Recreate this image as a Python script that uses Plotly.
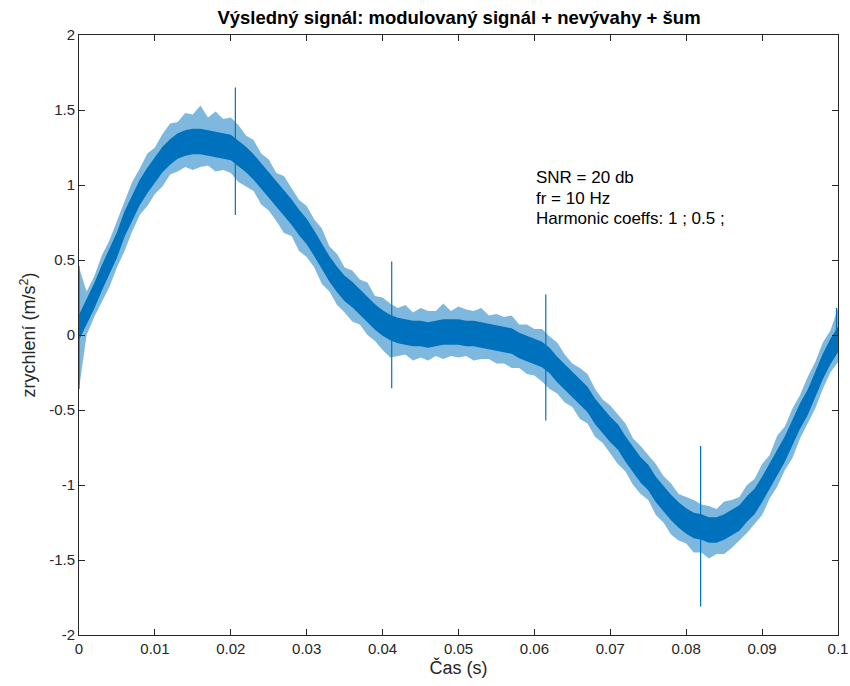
import plotly.graph_objects as go

# time samples (s), one every 1 ms
t = [i / 1000 for i in range(101)]

# centre of the noisy band (m/s^2)
center = [
    0.05, 0.15, 0.26, 0.38, 0.49, 0.60, 0.74, 0.85, 0.95, 1.03,
    1.10, 1.17, 1.22, 1.26, 1.28, 1.29, 1.29, 1.28, 1.27, 1.26,
    1.25, 1.21, 1.17, 1.12, 1.06, 1.00, 0.94, 0.88, 0.82, 0.75,
    0.69, 0.61, 0.52, 0.44, 0.37, 0.31, 0.27, 0.22, 0.17, 0.12,
    0.08, 0.05, 0.03, 0.02, 0.01, 0.01, 0.00, 0.01, 0.02, 0.02,
    0.02, 0.01, 0.01, 0.00, -0.01, -0.02, -0.03, -0.04, -0.07, -0.09,
    -0.11, -0.13, -0.17, -0.23, -0.28, -0.33, -0.38, -0.43, -0.51, -0.57,
    -0.63, -0.68, -0.76, -0.83, -0.90, -0.95, -1.03, -1.09, -1.15, -1.20,
    -1.24, -1.27, -1.28, -1.30, -1.30, -1.28, -1.25, -1.22, -1.16, -1.11,
    -1.03, -0.94, -0.85, -0.76, -0.65, -0.54, -0.45, -0.33, -0.21, -0.11,
    -0.03,
]

# how far the noise reaches above / below the centre at each sample
noise_up = [
    0.40, 0.14, 0.13, 0.15, 0.14, 0.16, 0.15, 0.17, 0.16, 0.18,
    0.15, 0.17, 0.19, 0.16, 0.20, 0.18, 0.24, 0.17, 0.22, 0.18,
    0.20, 0.19, 0.16, 0.18, 0.15, 0.17, 0.14, 0.18, 0.16, 0.15,
    0.17, 0.16, 0.19, 0.15, 0.17, 0.14, 0.16, 0.15, 0.18, 0.14,
    0.17, 0.16, 0.15, 0.18, 0.14, 0.17, 0.16, 0.15, 0.19, 0.14,
    0.17, 0.16, 0.15, 0.18, 0.14, 0.16, 0.15, 0.17, 0.14, 0.16,
    0.15, 0.17, 0.16, 0.18, 0.15, 0.14, 0.16, 0.17, 0.15, 0.14,
    0.16, 0.15, 0.17, 0.14, 0.16, 0.15, 0.17, 0.15, 0.16, 0.14,
    0.16, 0.17, 0.15, 0.16, 0.14, 0.17, 0.15, 0.14, 0.16, 0.15,
    0.17, 0.14, 0.18, 0.15, 0.16, 0.14, 0.17, 0.15, 0.16, 0.14,
    0.21,
]
noise_dn = [
    0.41, 0.15, 0.14, 0.16, 0.17, 0.15, 0.18, 0.16, 0.15, 0.17,
    0.16, 0.18, 0.15, 0.17, 0.16, 0.19, 0.17, 0.15, 0.18, 0.16,
    0.17, 0.19, 0.18, 0.16, 0.19, 0.17, 0.18, 0.20, 0.16, 0.19,
    0.17, 0.16, 0.18, 0.15, 0.17, 0.16, 0.18, 0.15, 0.17, 0.16,
    0.18, 0.20, 0.17, 0.15, 0.18, 0.16, 0.17, 0.15, 0.18, 0.16,
    0.17, 0.15, 0.18, 0.16, 0.15, 0.17, 0.16, 0.18, 0.15, 0.17,
    0.16, 0.18, 0.19, 0.16, 0.17, 0.15, 0.18, 0.16, 0.17, 0.15,
    0.16, 0.18, 0.15, 0.17, 0.16, 0.15, 0.17, 0.16, 0.18, 0.17,
    0.15, 0.18, 0.17, 0.19, 0.16, 0.18, 0.17, 0.15, 0.16, 0.15,
    0.17, 0.15, 0.16, 0.14, 0.17, 0.15, 0.14, 0.16, 0.15, 0.14,
    0.15,
]
core = 0.085  # half-width of the dense part of the band

# isolated impulses (s, top, bottom)
spike_t = [0.0, 0.0206, 0.0412, 0.0615, 0.0819, 0.0998]
spike_hi = [0.46, 1.65, 0.49, 0.27, -0.74, 0.18]
spike_lo = [-0.36, 0.80, -0.355, -0.57, -1.81, -0.12]

x_ticks = [0, 0.01, 0.02, 0.03, 0.04, 0.05, 0.06, 0.07, 0.08, 0.09, 0.1]
x_labels = ["0", "0.01", "0.02", "0.03", "0.04", "0.05", "0.06", "0.07", "0.08", "0.09", "0.1"]
y_ticks = [-2, -1.5, -1, -0.5, 0, 0.5, 1, 1.5, 2]
y_labels = ["-2", "-1.5", "-1", "-0.5", "0", "0.5", "1", "1.5", "2"]

title = "Výsledný signál: modulovaný signál + nevývahy + šum"
info_lines = ["SNR = 20 db", "fr = 10 Hz", "Harmonic coeffs: 1 ; 0.5 ;"]
info_y = [1.053, 0.913, 0.78]

BLUE = "#0072BD"
FONT = "Liberation Sans, Arial, sans-serif"
upper = [c + u for c, u in zip(center, noise_up)]
lower = [c - d for c, d in zip(center, noise_dn)]
core_hi = [c + core for c in center]
core_lo = [c - core for c in center]

fig = go.Figure()
# outer (sparse) part of the noise
fig.add_trace(go.Scatter(x=t, y=lower, mode="lines", line=dict(width=0), showlegend=False, hoverinfo="skip"))
fig.add_trace(go.Scatter(x=t, y=upper, mode="lines", line=dict(width=0),
                         fill="tonexty", fillcolor="rgba(0,114,189,0.5)", showlegend=False))
# dense core
fig.add_trace(go.Scatter(x=t, y=core_lo, mode="lines", line=dict(width=0), showlegend=False, hoverinfo="skip"))
fig.add_trace(go.Scatter(x=t, y=core_hi, mode="lines", line=dict(width=0),
                         fill="tonexty", fillcolor=BLUE, showlegend=False))
# spikes
px_, py_ = [], []
for ti, hi, lo in zip(spike_t, spike_hi, spike_lo):
    px_ += [ti, ti, None]
    py_ += [lo, hi, None]
fig.add_trace(go.Scatter(x=px_, y=py_, mode="lines", line=dict(width=1.2, color=BLUE), showlegend=False))

for txt, yy in zip(info_lines, info_y):
    fig.add_annotation(x=0.05995, y=yy, xref="x", yref="y", text=txt, showarrow=False,
                       xanchor="left", yanchor="middle", align="left",
                       font=dict(family=FONT, size=17, color="#000"))

axis_common = dict(showgrid=False, zeroline=False, showline=True, linecolor="#262626", linewidth=1,
                   mirror="allticks", ticks="inside", ticklen=6, tickcolor="#262626", automargin=False,
                   tickfont=dict(family=FONT, size=15, color="#262626"))
fig.update_layout(
    width=850, height=686,
    margin=dict(l=79, r=12, t=35, b=51),
    paper_bgcolor="white", plot_bgcolor="white",
    title=dict(text=title, x=0.54, xanchor="center", y=0.974, yanchor="middle",
               font=dict(family=FONT, size=18.5, color="#000", weight="bold")),
    xaxis=dict(range=[0, 0.1], tickvals=x_ticks, ticktext=x_labels,
               title=dict(text="Čas (s)", standoff=4,
                          font=dict(family=FONT, size=18, color="#262626")),
               **axis_common),
    yaxis=dict(range=[-2, 2], tickvals=y_ticks, ticktext=y_labels,
               title=dict(text="zrychlení (m/s<sup>2</sup>)", standoff=8,
                          font=dict(family=FONT, size=18, color="#262626")),
               **axis_common),
    showlegend=False,
)
fig.write_html("out.html")
